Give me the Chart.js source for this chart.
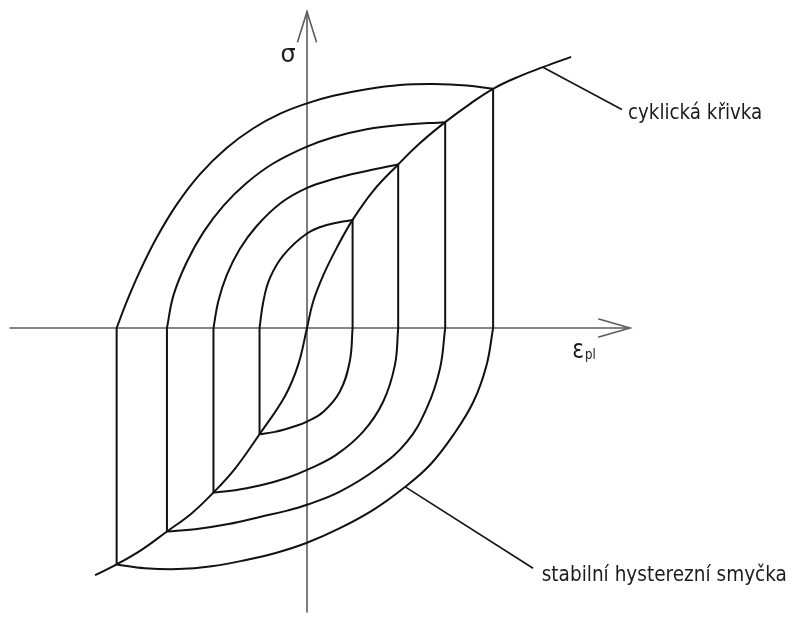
<!DOCTYPE html>
<html>
<head>
<meta charset="utf-8">
<title>Cyklická křivka a stabilní hysterezní smyčky</title>
<script src="https://cdn.jsdelivr.net/npm/chart.js@4/dist/chart.umd.min.js"></script>
<style>
  html, body { margin: 0; padding: 0; background: #fff; }
  canvas { display: block; }
</style>
</head>
<body>
<canvas id="hysteresis" width="798" height="625"></canvas>
<script>
// Cyclic stress-strain curve: [eps_pl, sigma] in arbitrary units
const cyclicCurve = [
    [-4.51, -5.26], [-4.05, -5.03], [-3.52, -4.72], [-2.98, -4.33], [-2.45, -3.94],
    [-1.99, -3.50], [-1.53, -2.99], [-1.01, -2.26], [-0.47, -1.45], [-0.19, -0.79],
    [0, 0], [0.13, 0.56], [0.35, 1.13], [0.63, 1.70], [0.97, 2.30], [1.41, 2.92],
    [1.94, 3.48], [2.40, 3.93], [2.94, 4.38], [3.47, 4.77], [3.96, 5.09],
    [4.53, 5.36], [5.02, 5.55], [5.62, 5.77]
];

// Stable loops: rising branch (from eps_pl min at sigma = 0 up to the tip)
// and falling branch (from eps_pl max at sigma = 0 down to the lower tip)
const loop1Rise = [[-1.01, 0], [-0.93, 0.56], [-0.79, 1.06], [-0.50, 1.55], [0, 2.01], [0.42, 2.19], [0.97, 2.30]];
const loop1Fall = [[0.97, 0], [0.91, -0.71], [0.70, -1.35], [0.35, -1.78], [0, -1.99], [-0.26, -2.09], [-0.68, -2.21], [-1.01, -2.26]];

const loop2Rise = [[-1.99, 0], [-1.89, 0.56], [-1.71, 1.12], [-1.43, 1.68], [-1.07, 2.17], [-0.57, 2.65], [0, 2.98],
    [0.56, 3.17], [1.27, 3.34], [1.94, 3.48]];
const loop2Fall = [[1.94, 0], [1.87, -0.79], [1.62, -1.57], [1.20, -2.20], [0.62, -2.70], [0, -3.02], [-0.40, -3.18],
    [-0.96, -3.34], [-1.53, -3.45], [-1.99, -3.50]];

const loop3Rise = [[-2.98, 0], [-2.84, 0.70], [-2.56, 1.40], [-2.21, 2.03], [-1.78, 2.60], [-1.28, 3.09], [-0.72, 3.50],
    [0, 3.86], [0.56, 4.06], [1.27, 4.23], [1.98, 4.32], [2.94, 4.38]];
const loop3Fall = [[2.94, 0], [2.83, -0.86], [2.55, -1.70], [2.12, -2.43], [1.48, -3.00], [0.70, -3.48], [0, -3.76],
    [-0.40, -3.88], [-0.96, -4.01], [-1.67, -4.17], [-2.38, -4.28], [-2.98, -4.33]];

const loop4Rise = [[-4.05, 0], [-3.84, 0.55], [-3.55, 1.22], [-3.20, 1.92], [-2.77, 2.63], [-2.28, 3.27], [-1.71, 3.83],
    [-1.14, 4.25], [-0.57, 4.56], [0, 4.78], [0.56, 4.94], [1.27, 5.08], [1.98, 5.17], [2.69, 5.19], [3.40, 5.16], [3.96, 5.09]];
const loop4Fall = [[3.96, 0], [3.82, -0.79], [3.54, -1.57], [3.11, -2.28], [2.62, -2.91], [2.05, -3.41], [1.41, -3.87],
    [0.70, -4.26], [0, -4.57], [-0.61, -4.77], [-1.32, -4.94], [-2.03, -5.07], [-2.74, -5.13], [-3.45, -5.11], [-4.05, -5.03]];

const loops = [[loop1Rise, loop1Fall], [loop2Rise, loop2Fall], [loop3Rise, loop3Fall], [loop4Rise, loop4Fall]];

// visible window of the plane (47 px per unit, origin at 307/328)
const X_MIN = -6.532, X_MAX = 10.447;
const Y_MIN = -6.319, Y_MAX = 6.979;

// axes with arrow heads, leader lines and captions (plane units)
const axisEps = { from: -6.32, to: 6.87, wingX: 6.21, wingY: 0.19 };
const axisSig = { from: -6.04, to: 6.73, wingY: 6.09, wingX: 0.2 };
const leaders = [
    [[5.02, 5.55], [6.70, 4.65]],
    [[2.09, -3.38], [4.81, -5.11]]
];
const captions = [
    { text: 'σ', x: -0.565, y: 5.666, size: 24, squeeze: 1 },
    { text: 'ε', x: 5.645, y: -0.645, size: 26, squeeze: 0.84 },
    { text: 'pl', x: 5.915, y: -0.65, size: 14, squeeze: 0.84 },
    { text: 'cyklická křivka', x: 6.83, y: 4.44, size: 22, squeeze: 0.83 },
    { text: 'stabilní hysterezní smyčka', x: 4.994, y: -5.377, size: 22, squeeze: 0.84 }
];

const toPoints = arr => arr.map(([x, y]) => ({ x: x, y: y }));

function line(arr, tension) {
    return {
        data: toPoints(arr),
        showLine: true,
        pointRadius: 0,
        borderColor: '#111',
        borderWidth: 2,
        tension: tension,
        fill: false
    };
}

const datasets = [line(cyclicCurve, 0.4)];
loops.forEach(([rise, fall]) => {
    datasets.push(line(rise, 0.4));
    datasets.push(line(fall, 0.4));
    // elastic unloading: eps_pl stays constant, so these are vertical
    datasets.push(line([rise[rise.length - 1], fall[0]], 0));
    datasets.push(line([fall[fall.length - 1], rise[0]], 0));
});

function polyline(ctx, xs, ys, pts) {
    ctx.beginPath();
    pts.forEach(([x, y], i) => {
        const px = xs.getPixelForValue(x), py = ys.getPixelForValue(y);
        if (i === 0) ctx.moveTo(px, py); else ctx.lineTo(px, py);
    });
    ctx.stroke();
}

const decorations = {
    id: 'decorations',
    beforeDatasetsDraw(chart) {
        const ctx = chart.ctx, xs = chart.scales.x, ys = chart.scales.y;
        ctx.save();
        ctx.strokeStyle = '#5c5c5c';
        ctx.lineWidth = 1.6;
        ctx.lineCap = 'round';
        polyline(ctx, xs, ys, [[axisEps.from, 0], [axisEps.to, 0]]);
        polyline(ctx, xs, ys, [[axisEps.wingX, axisEps.wingY], [axisEps.to, 0], [axisEps.wingX, -axisEps.wingY]]);
        polyline(ctx, xs, ys, [[0, axisSig.from], [0, axisSig.to]]);
        polyline(ctx, xs, ys, [[-axisSig.wingX, axisSig.wingY], [0, axisSig.to], [axisSig.wingX, axisSig.wingY]]);
        ctx.restore();
    },
    afterDatasetsDraw(chart) {
        const ctx = chart.ctx, xs = chart.scales.x, ys = chart.scales.y;
        ctx.save();
        ctx.strokeStyle = '#161616';
        ctx.lineWidth = 1.7;
        leaders.forEach(seg => polyline(ctx, xs, ys, seg));

        ctx.fillStyle = '#1c1c1c';
        ctx.textBaseline = 'alphabetic';
        ctx.textAlign = 'left';
        captions.forEach(c => {
            ctx.save();
            ctx.translate(xs.getPixelForValue(c.x), ys.getPixelForValue(c.y));
            ctx.scale(c.squeeze, 1);
            ctx.font = c.size + 'px "DejaVu Sans"';
            ctx.fillText(c.text, 0, 0);
            ctx.restore();
        });
        ctx.restore();
    }
};

new Chart(document.getElementById('hysteresis').getContext('2d'), {
    type: 'scatter',
    data: { datasets: datasets },
    options: {
        responsive: false,
        animation: false,
        devicePixelRatio: 1,
        events: [],
        layout: { padding: 0 },
        scales: {
            x: { type: 'linear', min: X_MIN, max: X_MAX, display: false },
            y: { type: 'linear', min: Y_MIN, max: Y_MAX, display: false }
        },
        plugins: {
            legend: { display: false },
            tooltip: { enabled: false }
        }
    },
    plugins: [decorations]
});
</script>
</body>
</html>
